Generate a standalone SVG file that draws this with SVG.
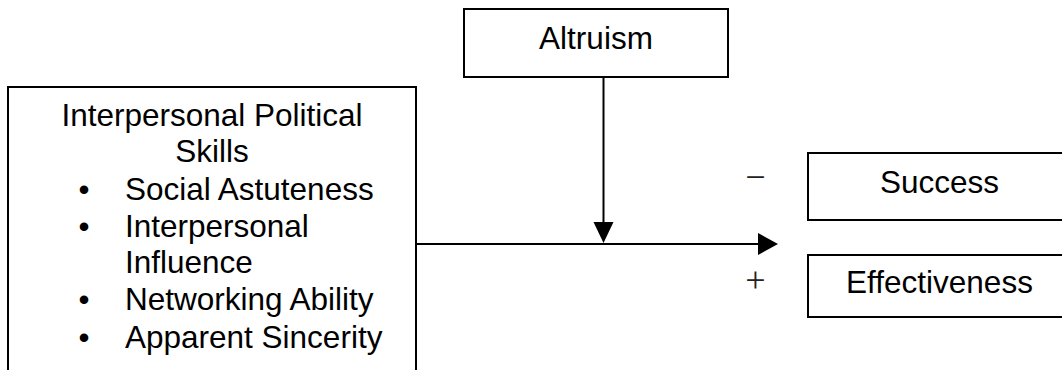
<svg xmlns="http://www.w3.org/2000/svg" width="1062" height="370" viewBox="0 0 1062 370">
<style>
.box{fill:#fff;stroke:#000;stroke-width:2}
.t{font-family:"Liberation Sans",Arial,sans-serif;font-size:31.5px;fill:#000}
.m{text-anchor:middle}
.sign{font-family:"Liberation Serif","Times New Roman",serif;font-size:36px;fill:#222;text-anchor:middle}
.line{stroke:#000;stroke-width:2;fill:none}
</style>
<rect width="1062" height="370" fill="#fff"/>
<g id="node-skills">
<rect class="box" x="8" y="87" width="408" height="300"/>
<text class="t m" x="212" y="126">Interpersonal Political</text>
<text class="t m" x="212" y="162">Skills</text>
<text class="t m" x="84" y="200">•</text>
<text class="t" x="125" y="200">Social Astuteness</text>
<text class="t m" x="84" y="237">•</text>
<text class="t" x="125" y="237">Interpersonal</text>
<text class="t" x="125" y="273">Influence</text>
<text class="t m" x="84" y="310">•</text>
<text class="t" x="125" y="310">Networking Ability</text>
<text class="t m" x="84" y="348">•</text>
<text class="t" x="125" y="348">Apparent Sincerity</text>
</g>
<g id="node-altruism">
<rect class="box" x="464" y="9" width="264" height="68"/>
<text class="t m" x="596" y="49">Altruism</text>
</g>
<g id="node-success">
<rect class="box" x="808" y="153" width="270" height="67"/>
<text class="t m" x="939.5" y="193">Success</text>
</g>
<g id="node-effectiveness">
<rect class="box" x="808" y="255" width="270" height="62"/>
<text class="t m" x="939.5" y="293">Effectiveness</text>
</g>
<g id="connectors">
<line class="line" x1="417" y1="244" x2="758" y2="244"/>
<path d="M758,233 L778,244 L758,255 Z" fill="#000"/>
<line class="line" x1="603.5" y1="77" x2="603.5" y2="224"/>
<path d="M593.5,222 L613.5,222 L603.5,243 Z" fill="#000"/>
<text class="sign" x="755.5" y="189">−</text>
<text class="sign" x="755.5" y="292">+</text>
</g>
</svg>
